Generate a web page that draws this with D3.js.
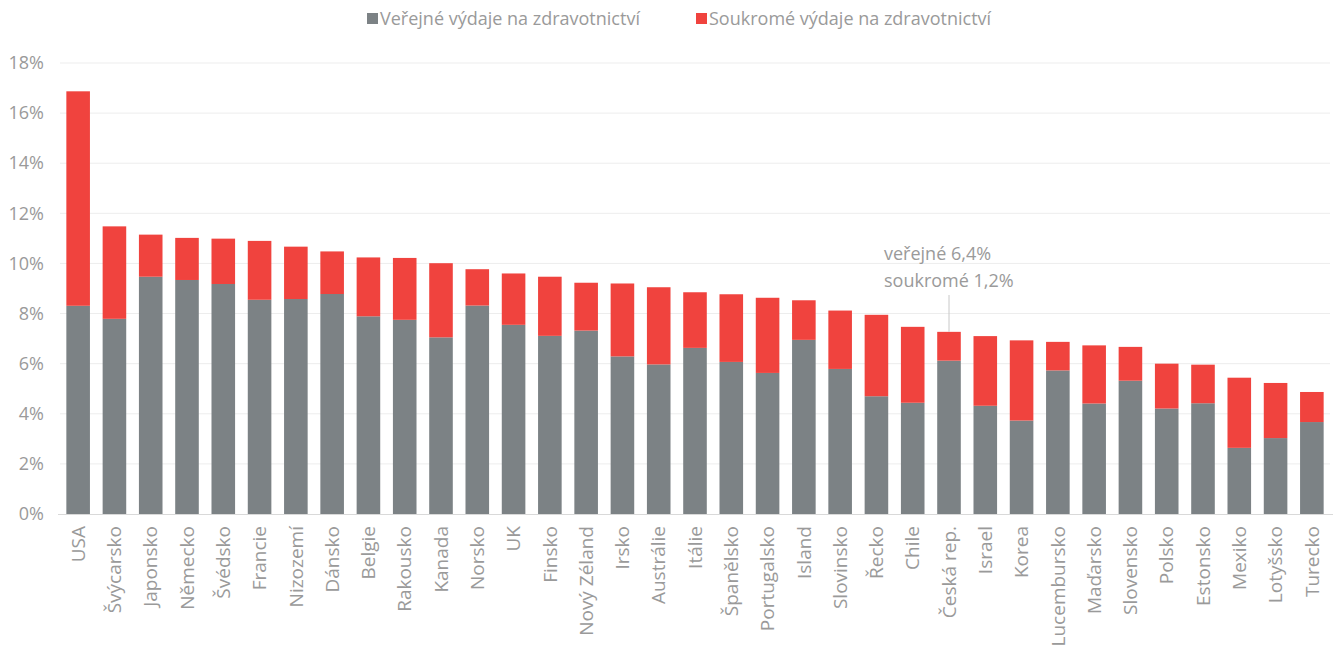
<!DOCTYPE html>
<html>
<head>
<meta charset="utf-8">
<script src="https://cdn.jsdelivr.net/npm/d3@7"></script>
<style>
  body { margin: 0; background: #fff; }
  text { font-family: "Open Sans", sans-serif; fill: #9a9a9a; }
</style>
</head>
<body>
<div id="chart"></div>
<script>
const countries = ["USA", "Švýcarsko", "Japonsko", "Německo", "Švédsko", "Francie", "Nizozemí", "Dánsko",
  "Belgie", "Rakousko", "Kanada", "Norsko", "UK", "Finsko", "Nový Zéland", "Irsko", "Austrálie", "Itálie",
  "Španělsko", "Portugalsko", "Island", "Slovinsko", "Řecko", "Chile", "Česká rep.", "Israel", "Korea",
  "Lucembursko", "Maďarsko", "Slovensko", "Polsko", "Estonsko", "Mexiko", "Lotyšsko", "Turecko"];
const verejne = [8.31, 7.79, 9.47, 9.34, 9.18, 8.55, 8.58, 8.78, 7.89, 7.75, 7.05, 8.32, 7.55, 7.11, 7.32,
  6.29, 5.97, 6.63, 6.07, 5.63, 6.95, 5.79, 4.70, 4.44, 6.12, 4.32, 3.73, 5.73, 4.41, 5.32, 4.21, 4.42,
  2.64, 3.03, 3.67];
const soukrome = [8.56, 3.69, 1.68, 1.68, 1.81, 2.35, 2.09, 1.70, 2.35, 2.47, 2.96, 1.45, 2.05, 2.36, 1.91,
  2.91, 3.08, 2.22, 2.70, 3.00, 1.58, 2.33, 3.25, 3.03, 1.15, 2.78, 3.20, 1.14, 2.32, 1.35, 1.79, 1.54,
  2.80, 2.20, 1.20];
const yTicks = [0, 2, 4, 6, 8, 10, 12, 14, 16, 18];
const seriesNames = ["Veřejné výdaje na zdravotnictví", "Soukromé výdaje na zdravotnictví"];
const annotationLines = ["veřejné 6,4%", "soukromé 1,2%"];

const width = 1336, height = 647;
const colors = ["#7c8285", "#f0433e"];

const svg = d3.select("#chart").append("svg")
  .attr("width", width).attr("height", height);

const x = d3.scaleBand().domain(countries).range([60, 1330]).paddingInner(0.35).paddingOuter(0.175);
const y = d3.scaleLinear().domain([0, 18]).range([514, 63]);

// gridlines
svg.append("g")
  .selectAll("line")
  .data(yTicks.slice(1))
  .join("line")
  .attr("x1", 60).attr("x2", 1330)
  .attr("y1", d => y(d)).attr("y2", d => y(d))
  .attr("stroke", "#ededed").attr("stroke-width", 1);

// y axis labels
const yAxis = d3.axisLeft(y).tickValues(yTicks).tickFormat(d => d + "%").tickSize(0).tickPadding(0);
svg.append("g")
  .attr("transform", "translate(44,0)")
  .call(yAxis)
  .call(g => g.select(".domain").remove())
  .selectAll("text")
  .style("font-size", "18px")
  .attr("fill", "#9a9a9a");

const rows = countries.map((c, i) => ({ country: c, verejne: verejne[i], soukrome: soukrome[i] }));
const stacked = d3.stack().keys(["verejne", "soukrome"])(rows);

svg.append("g")
  .selectAll("g")
  .data(stacked)
  .join("g")
  .attr("fill", (d, i) => colors[i])
  .selectAll("rect")
  .data(d => d)
  .join("rect")
  .attr("x", d => x(d.data.country))
  .attr("width", x.bandwidth())
  .attr("y", d => y(d[1]))
  .attr("height", d => y(d[0]) - y(d[1]));

// baseline
svg.append("line")
  .attr("x1", 58).attr("x2", 1333)
  .attr("y1", y(0) + 0.5).attr("y2", y(0) + 0.5)
  .attr("stroke", "#d9d9d9");

// x labels
const xAxis = d3.axisBottom(x).tickSize(0).tickPadding(0);
svg.append("g")
  .attr("transform", `translate(0,${y(0) + 12})`)
  .call(xAxis)
  .call(g => g.select(".domain").remove())
  .selectAll("text")
  .attr("transform", "rotate(-90)")
  .attr("text-anchor", "end")
  .attr("dx", 0)
  .attr("dy", "0.35em")
  .attr("x", 0).attr("y", 0)
  .style("font-size", "19px")
  .attr("fill", "#9a9a9a");

// legend
const legendX = [367, 696];
const legend = svg.append("g").selectAll("g").data(seriesNames).join("g")
  .attr("transform", (d, i) => `translate(${legendX[i]},0)`);
legend.append("rect").attr("x", 0).attr("y", 13).attr("width", 11).attr("height", 11)
  .attr("fill", (d, i) => colors[i]);
legend.append("text").attr("x", 13).attr("y", 25).text(d => d).style("font-size", "18px");

// annotation for Česká rep.
const cx = x("Česká rep.") + x.bandwidth() / 2;
const ci = countries.indexOf("Česká rep.");
svg.append("line")
  .attr("x1", cx).attr("x2", cx)
  .attr("y1", 295).attr("y2", y(verejne[ci] + soukrome[ci]))
  .attr("stroke", "#c8c8c8");
svg.append("g").selectAll("text").data(annotationLines).join("text")
  .attr("x", cx - 65)
  .attr("y", (d, i) => 260 + i * 27)
  .text(d => d)
  .style("font-size", "18px");
</script>
</body>
</html>
